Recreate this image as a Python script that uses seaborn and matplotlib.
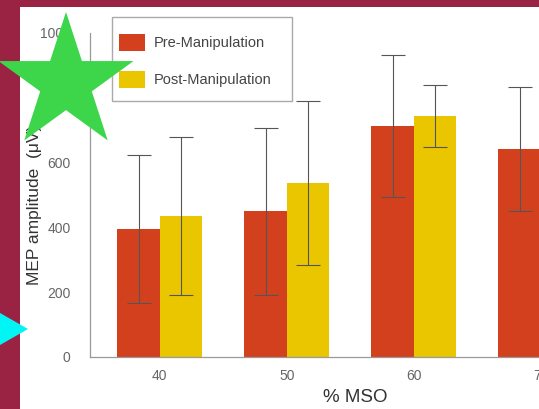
import numpy as np
import pandas as pd
import matplotlib
matplotlib.use("Agg")
import matplotlib.pyplot as plt
import seaborn as sns
from matplotlib.patches import Rectangle, Polygon


# =====================================================
# Data
# =====================================================

mso_levels = ["40", "50", "60", "70"]
conditions = ["Pre-Manipulation", "Post-Manipulation"]
pre_mean = [395, 450, 713, 642]
post_mean = [435, 537, 744, 700]
pre_err = [228, 258, 219, 191]
post_err = [244, 253, 96, 150]
y_ticks = [0, 200, 400, 600, 800, 1000]

RED = "#D2401E"
YELLOW = "#E9C600"
MAROON = "#9A2343"


def build_frame():
    rows = []
    for i, lvl in enumerate(mso_levels):
        rows.append({"mso": lvl, "cond": conditions[0], "amp": pre_mean[i]})
        rows.append({"mso": lvl, "cond": conditions[1], "amp": post_mean[i]})
    return pd.DataFrame(rows)


def star_points(cx, cy, r_out, r_in):
    pts = []
    for k in range(10):
        ang = np.pi / 2 + k * np.pi / 5
        r = r_out if k % 2 == 0 else r_in
        pts.append((cx + r * np.cos(ang), cy - r * np.sin(ang)))
    return pts


sns.set_style("white")
plt.rcParams["font.family"] = ["Liberation Sans", "DejaVu Sans"]

W, H = 539, 409
fig = plt.figure(figsize=(W / 100, H / 100), dpi=100)
fig.patch.set_facecolor("white")

# axes: left spine at x=90, y=0 at 357, y=1000 at 33; runs off the right edge
ax = fig.add_axes([90 / W, (H - 357) / H, 527 / W, 324 / H])

df = build_frame()
sns.barplot(
    data=df, x="mso", y="amp", hue="cond",
    hue_order=conditions, palette=[RED, YELLOW],
    width=0.67, errorbar=None, saturation=1, linewidth=0, ax=ax,
    legend=True,
)

errs = [pre_err, post_err]
for cont, err in zip(ax.containers, errs):
    for bar, e in zip(cont, err):
        cx = bar.get_x() + bar.get_width() / 2
        ax.errorbar(cx, bar.get_height(), yerr=e, fmt="none",
                    ecolor="#555555", elinewidth=0.8, capsize=8.5,
                    capthick=0.8, zorder=5)

ax.set_xlim(-0.55, 3.6)
ax.set_ylim(0, 1000)
ax.set_yticks(y_ticks)
ax.tick_params(axis="y", direction="in", length=6, width=0.8,
               color="#999999", labelsize=10, labelcolor="#666666", pad=14)
ax.tick_params(axis="x", length=0, labelsize=10, labelcolor="#666666", pad=9)

for s in ["top", "right"]:
    ax.spines[s].set_visible(False)
for s in ["left", "bottom"]:
    ax.spines[s].set_color("#999999")
    ax.spines[s].set_linewidth(0.9)

ax.set_xlabel("% MSO", fontsize=13.5, color="#333333")
ax.xaxis.set_label_coords((355 - 90) / 527, -(398 - 357) / 324, transform=ax.transAxes)
ax.xaxis.label.set_verticalalignment("center")
ax.set_ylabel("MEP amplitude  (\u03bcV)", fontsize=12.5, color="#333333")
ax.yaxis.set_label_coords(-(90 - 35) / 527, (357 - 205) / 324)
ax.yaxis.label.set_verticalalignment("center")

# legend
leg = ax.legend(
    loc="upper left", bbox_to_anchor=(119 / W, 1 - 34 / H),
    bbox_transform=fig.transFigure, frameon=False, fontsize=10.5,
    handlelength=1.8, handleheight=1.4, handletextpad=0.55,
    labelspacing=1.38, borderpad=0, borderaxespad=0,
)
for t in leg.get_texts():
    t.set_color("#444444")
fig.patches.append(Rectangle((112 / W, 1 - 101 / H), 180 / W, 84 / H,
                             transform=fig.transFigure, fill=False,
                             edgecolor="#aaaaaa", linewidth=1.0, zorder=10))

# page decorations
fig.patches.append(Rectangle((0, 1 - 7 / H), 1, 7 / H, transform=fig.transFigure,
                             facecolor=MAROON, edgecolor="none", zorder=20))
fig.patches.append(Rectangle((0, 0), 20 / W, 1, transform=fig.transFigure,
                             facecolor=MAROON, edgecolor="none", zorder=20))

tri = [(0, 313), (28, 329), (0, 345)]
fig.patches.append(Polygon([(x / W, 1 - y / H) for x, y in tri], closed=True,
                           transform=fig.transFigure, facecolor="#00F5F5",
                           edgecolor="none", zorder=21))

pts = star_points(66, 83, 71, 71 * 0.382)
fig.patches.append(Polygon([(x / W, 1 - y / H) for x, y in pts], closed=True,
                           transform=fig.transFigure, facecolor="#3DD64A",
                           edgecolor="none", zorder=22))

fig.savefig("out.png", dpi=100)
